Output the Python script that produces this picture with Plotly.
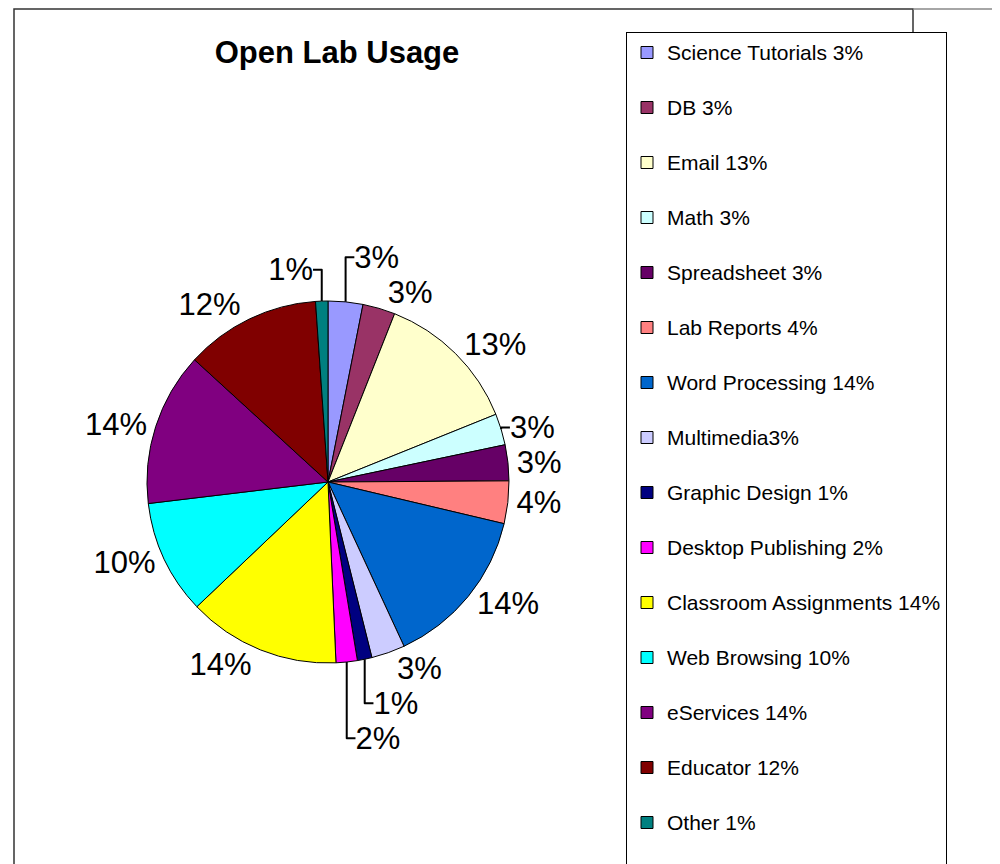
import plotly.graph_objects as go

categories = [
    "Science Tutorials 3%", "DB 3%", "Email 13%", "Math 3%", "Spreadsheet 3%",
    "Lab Reports 4%", "Word Processing 14%", "Multimedia3%", "Graphic Design 1%",
    "Desktop Publishing 2%", "Classroom Assignments 14%", "Web Browsing 10%",
    "eServices 14%", "Educator 12%", "Other 1%",
]
values = [3.1, 2.9, 12.9, 2.8, 3.2, 3.8, 14.4, 3.0, 1.3, 1.9, 13.6, 10.2, 13.7, 12.1, 1.1]
colors = [
    "#9999FF", "#993366", "#FFFFCC", "#CCFFFF", "#660066",
    "#FF8080", "#0066CC", "#CCCCFF", "#000080", "#FF00FF",
    "#FFFF00", "#00FFFF", "#800080", "#800000", "#008080",
]

W, H = 1000, 864
OFF = 8  # page body margin
cx, cy, r = 328 - OFF, 482 - OFF, 181

legend_labels = [f"<span style='font-size:21px'>{c}</span><br> " for c in categories]

fig = go.Figure(go.Pie(
    labels=legend_labels,
    values=values,
    sort=False,
    direction="clockwise",
    rotation=0,
    marker=dict(colors=colors, line=dict(color="black", width=1)),
    texttemplate="%{percent:.0%}",
    textposition="outside",
    outsidetextfont=dict(family="Arial, Liberation Sans", size=31, color="black"),
    domain=dict(x=[(cx - r) / W, (cx + r) / W], y=[(H - cy - r) / H, (H - cy + r) / H]),
    hoverinfo="label+percent",
))

fig.update_layout(
    width=W, height=H,
    margin=dict(l=0, r=0, t=0, b=0),
    paper_bgcolor="white",
    plot_bgcolor="white",
    font=dict(family="Arial, Liberation Sans", color="black"),
    title=dict(
        text="<b>Open Lab Usage</b>",
        x=(337 - OFF) / W, y=1 - (52 - OFF) / H, xanchor="center", yanchor="middle",
        font=dict(size=31, color="black"),
    ),
    showlegend=True,
    legend=dict(
        x=(626 - OFF) / W, y=1 - 24 / H, xanchor="left", yanchor="top",
        bordercolor="black", borderwidth=1,
        font=dict(size=20, color="black"),
        valign="top",
        itemwidth=30,
        traceorder="normal",
    ),
    shapes=[
        dict(type="rect", xref="paper", yref="paper",
             x0=(14 - OFF) / W, x1=(913 - OFF) / W, y0=-0.05, y1=1 - 1 / H,
             line=dict(color="#333333", width=1.5), layer="below"),
        dict(type="line", xref="paper", yref="paper",
             x0=(913 - OFF) / W, x1=1.0, y0=1 - 1 / H, y1=1 - 1 / H,
             line=dict(color="#888888", width=1.5), layer="below"),
    ],
)

fig.write_html("out.html")
